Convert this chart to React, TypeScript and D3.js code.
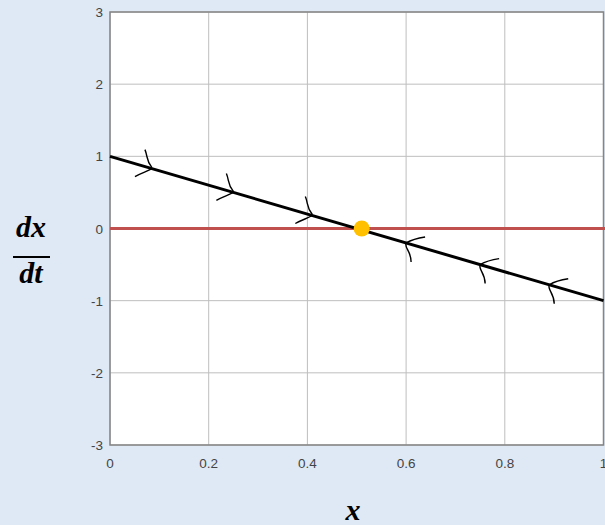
import React from "react";
import * as d3 from "d3";

const xTicks = [0, 0.2, 0.4, 0.6, 0.8, 1];
const yTicks = [-3, -2, -1, 0, 1, 2, 3];
const xTickLabels = ["0", "0.2", "0.4", "0.6", "0.8", "1"];
const yTickLabels = ["-3", "-2", "-1", "0", "1", "2", "3"];
// dx/dt = 1 - 2x
const lineX = [0, 1];
const lineY = [1, -1];
const equilibriumX = [0.51];
const equilibriumY = [0];
const arrowRightX = [0.085, 0.25, 0.41];
const arrowLeftX = [0.6, 0.75, 0.89];

const W = 605;
const H = 525;
const M = { left: 110, right: 603.5, top: 12, bottom: 445 };

export default function App() {
  const x = d3.scaleLinear().domain([0, 1]).range([M.left, M.right]);
  const y = d3.scaleLinear().domain([-3, 3]).range([M.bottom, M.top]);
  const f = (v: number) => 1 - 2 * v;
  const line = d3
    .line<number>()
    .x((d) => x(d))
    .y((_, i) => y(lineY[i]));
  const grid = "#bebebe";
  const axis = "#858585";
  const textC = "#444444";
  const font = "Liberation Sans, Arial, sans-serif";
  const mathFont = "Liberation Serif, Times New Roman, serif";

  const rightArrow = (px: number, py: number) =>
    `M${px - 7},${py - 19} C${px - 4},${py - 12} ${px - 6},${py - 8} ${px},${py - 1} M${px},${py} C${px - 5},${py + 3} ${px - 10},${py + 4} ${px - 17},${py + 8}`;
  const leftArrow = (px: number, py: number) =>
    `M${px + 19},${py - 6} C${px + 12},${py - 5} ${px + 5},${py - 3} ${px},${py} C${px - 2},${py + 5} ${px + 5},${py + 8} ${px + 5},${py + 19}`;

  return (
    <svg
      width={W}
      height={H}
      style={{ position: "absolute", left: 0, top: 0, background: "#dee9f5" }}
    >
      <rect x={M.left} y={M.top} width={M.right - M.left} height={M.bottom - M.top} fill="#ffffff" />
      {xTicks.map((t) => (
        <line key={"gx" + t} x1={x(t)} x2={x(t)} y1={M.top} y2={M.bottom} stroke={grid} strokeWidth={1} />
      ))}
      {yTicks.map((t) => (
        <line key={"gy" + t} x1={M.left} x2={M.right} y1={y(t)} y2={y(t)} stroke={grid} strokeWidth={1} />
      ))}
      <rect
        x={M.left}
        y={M.top}
        width={M.right - M.left}
        height={M.bottom - M.top}
        fill="none"
        stroke={axis}
        strokeWidth={1.5}
      />
      {yTicks.map((t, i) => (
        <text
          key={"yl" + t}
          x={M.left - 7}
          y={y(t) + 5}
          textAnchor="end"
          fontFamily={font}
          fontSize={13.5}
          fill={textC}
        >
          {yTickLabels[i]}
        </text>
      ))}
      {xTicks.map((t, i) => (
        <text
          key={"xl" + t}
          x={x(t)}
          y={M.bottom + 23}
          textAnchor="middle"
          fontFamily={font}
          fontSize={13.5}
          fill={textC}
        >
          {xTickLabels[i]}
        </text>
      ))}
      {/* zero line */}
      <line x1={M.left} x2={W} y1={y(0)} y2={y(0)} stroke="#c0504d" strokeWidth={3} />
      {/* dx/dt line */}
      <path d={line(lineX) || ""} stroke="#000" strokeWidth={3} fill="none" />
      {/* arrows */}
      {arrowRightX.map((v) => (
        <path key={"ar" + v} d={rightArrow(x(v), y(f(v)))} stroke="#000" strokeWidth={1.4} fill="none" />
      ))}
      {arrowLeftX.map((v) => (
        <path key={"al" + v} d={leftArrow(x(v), y(f(v)))} stroke="#000" strokeWidth={1.4} fill="none" />
      ))}
      {equilibriumX.map((v, i) => (
        <circle key={"eq" + i} cx={x(v)} cy={y(equilibriumY[i])} r={8} fill="#ffc000" />
      ))}
      {/* y label dx/dt */}
      <text x={31} y={237} textAnchor="middle" fontFamily={mathFont} fontWeight="bold" fontStyle="italic" fontSize={30} fill="#000">
        dx
      </text>
      <line x1={13} x2={50} y1={257} y2={257} stroke="#000" strokeWidth={2} />
      <text x={31} y={283} textAnchor="middle" fontFamily={mathFont} fontWeight="bold" fontStyle="italic" fontSize={30} fill="#000">
        dt
      </text>
      {/* x label */}
      <text x={353} y={520} textAnchor="middle" fontFamily={mathFont} fontWeight="bold" fontStyle="italic" fontSize={30} fill="#000">
        x
      </text>
    </svg>
  );
}
